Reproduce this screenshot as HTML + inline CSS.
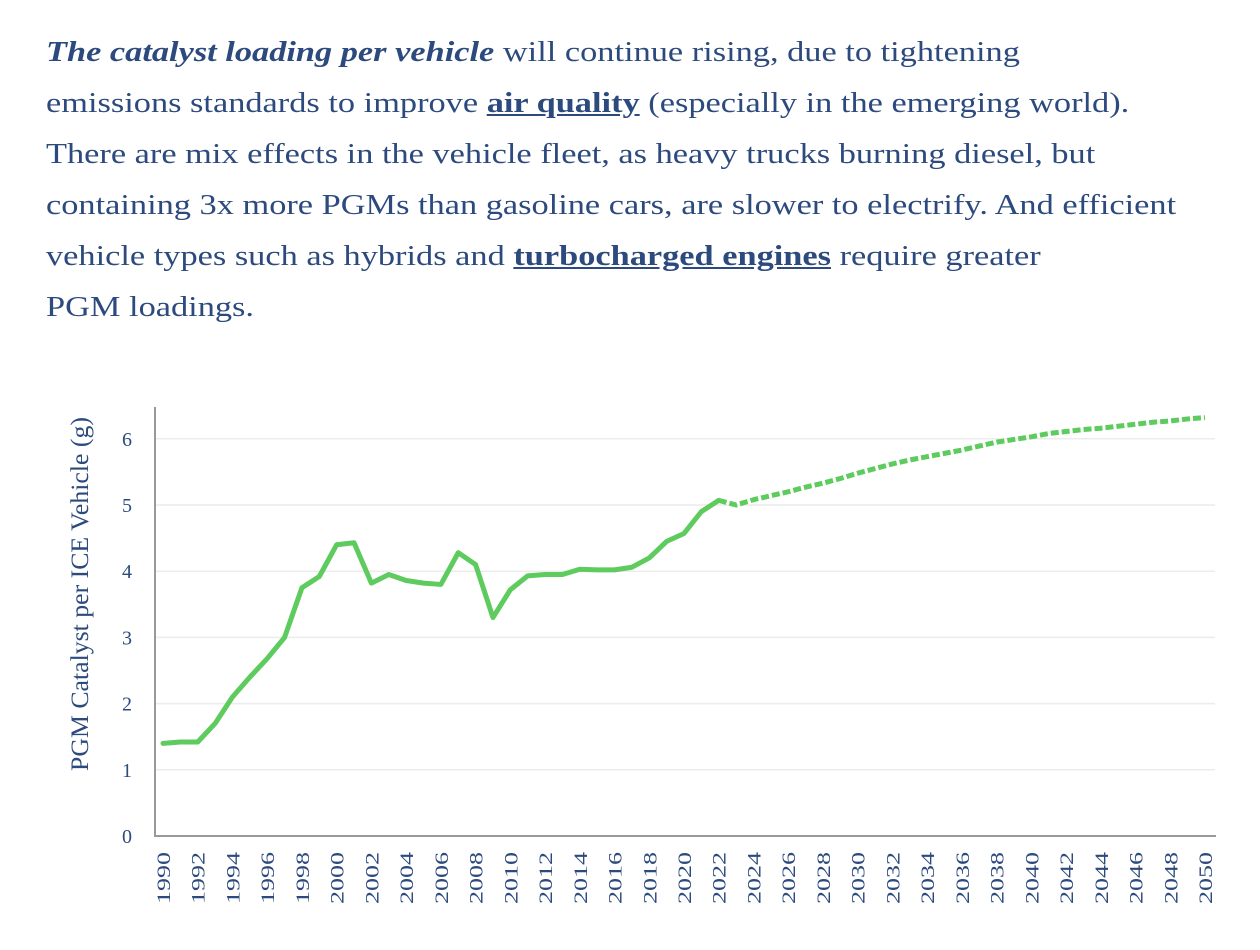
<!DOCTYPE html>
<html><head><meta charset="utf-8">
<style>
body{margin:0;width:1260px;height:950px;background:#fff;overflow:hidden;font-family:"Liberation Serif",serif;}
#txt{position:absolute;left:46px;top:27px;width:1000px;font-size:28.5px;line-height:51px;color:#2c4a7d;transform:scaleX(1.205);transform-origin:0 0;white-space:nowrap}
#txt b{font-weight:bold}
#txt a{color:#2c4a7d;text-decoration:underline;font-weight:bold}
svg{position:absolute;left:0;top:0}
</style></head><body>
<div id="txt"><b><i>The catalyst loading per vehicle</i></b> will continue rising, due to tightening<br>emissions standards to improve <a>air quality</a> (especially in the emerging world).<br>There are mix effects in the vehicle fleet, as heavy trucks burning diesel, but<br>containing 3x more PGMs than gasoline cars, are slower to electrify. And efficient<br>vehicle types such as hybrids and <a>turbocharged engines</a> require greater<br>PGM loadings.</div>
<svg id="chart" width="1260" height="950"></svg>
<script>
const years=[];for(let y=1990;y<=2050;y++)years.push(y);
const actualValues=[1.4,1.42,1.42,1.7,2.1,2.4,2.68,3.0,3.75,3.92,4.4,4.43,3.82,3.95,3.86,3.82,3.8,4.28,4.1,3.3,3.72,3.93,3.95,3.95,4.03,4.02,4.02,4.06,4.2,4.45,4.57,4.9,5.07];
const projectedValues=[5.07,5.0,5.08,5.14,5.2,5.27,5.33,5.4,5.48,5.55,5.62,5.68,5.73,5.78,5.83,5.89,5.95,5.99,6.03,6.08,6.11,6.14,6.16,6.19,6.22,6.25,6.27,6.3,6.32];
const yTicks=[0,1,2,3,4,5,6];
const xTickYears=years.filter(y=>y%2===0);
const NS="http://www.w3.org/2000/svg";
const svg=document.getElementById('chart');
const X=y=>163+(y-1990)*(1205-163)/60;
const Y=v=>836-v*66.2;
function el(t,a){const e=document.createElementNS(NS,t);for(const k in a)e.setAttribute(k,a[k]);svg.appendChild(e);return e;}
yTicks.forEach(v=>{
 if(v>0){const g=el('line',{x1:156,x2:1215,y1:Y(v),y2:Y(v),stroke:'#ececec','stroke-width':1.5});
 
 }
 const t=el('text',{x:127,y:Y(v)+7,'text-anchor':'middle','font-size':20,fill:'#2c4a7d','font-family':'Liberation Serif, serif'});
 t.textContent=v;
 
 
});
xTickYears.forEach(y=>{
 const t=el('text',{transform:`translate(${X(y)+7},${852}) rotate(-90)`,'text-anchor':'end','font-size':19,fill:'#2c4a7d','font-family':'Liberation Serif, serif',textLength:52,lengthAdjust:'spacingAndGlyphs'});
 t.textContent=y;
 
 
});
const ax=el('polyline',{points:'155,407 155,836 1216,836',fill:'none',stroke:'#999','stroke-width':2});


const yt=el('text',{transform:'translate(88,594) rotate(-90)','text-anchor':'middle','font-size':25,fill:'#2c4a7d','font-family':'Liberation Serif, serif',textLength:354,lengthAdjust:'spacingAndGlyphs'});
yt.textContent='PGM Catalyst per ICE Vehicle (g)';


const a=el('polyline',{points:actualValues.map((v,i)=>X(1990+i)+','+Y(v)).join(' '),fill:'none',stroke:'#5ecb5e','stroke-width':5,'stroke-linejoin':'round','stroke-linecap':'round'});


const p=el('polyline',{points:projectedValues.map((v,i)=>X(2022+i)+','+Y(v)).join(' '),fill:'none',stroke:'#5ecb5e','stroke-width':5,'stroke-dasharray':'8 3','stroke-linejoin':'round'});


</script>
</body></html>
